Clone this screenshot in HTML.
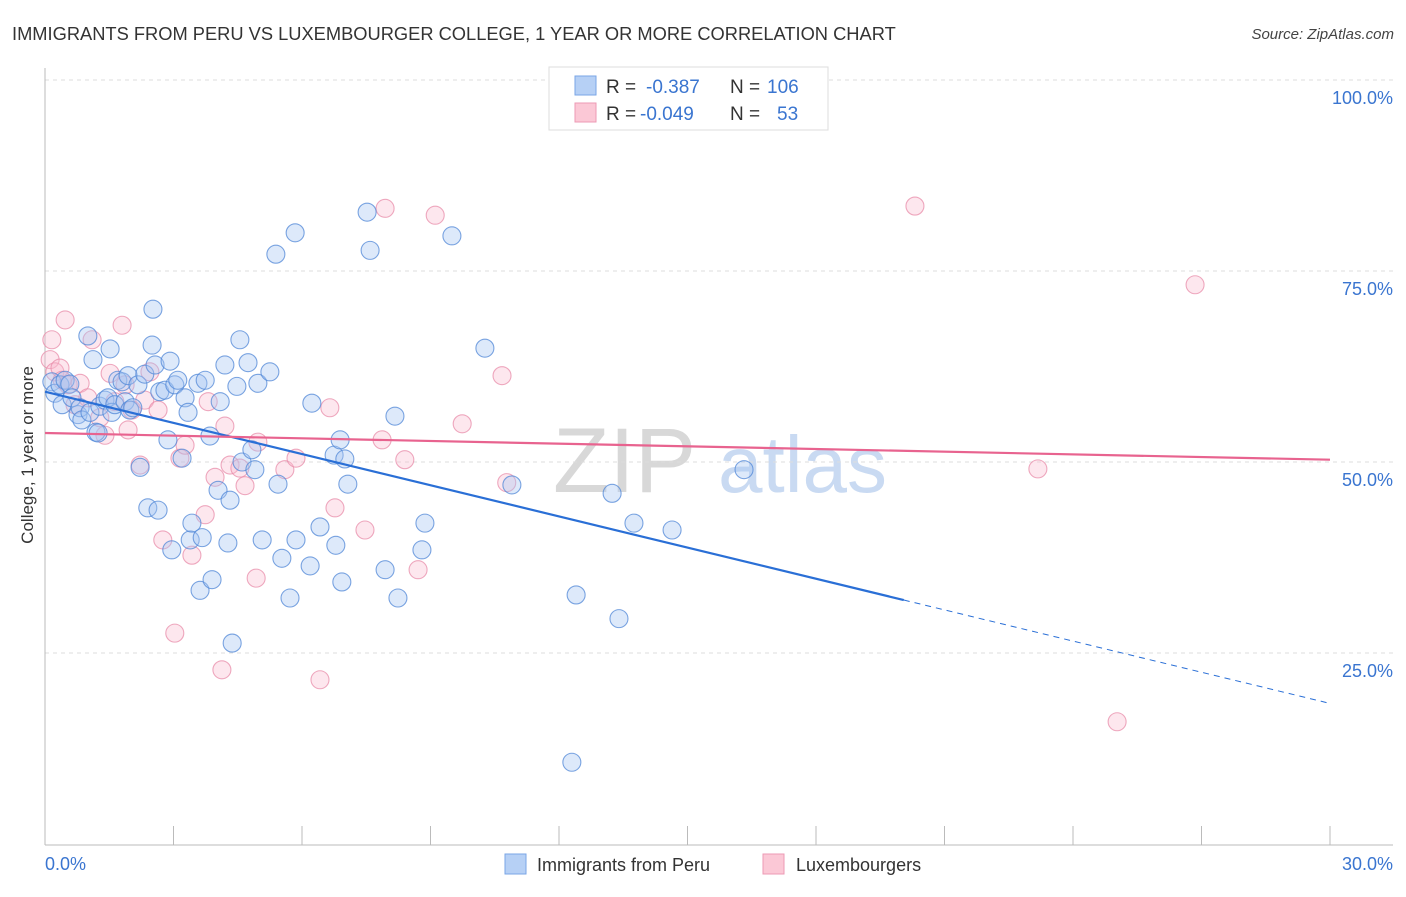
<!DOCTYPE html>
<html><head><meta charset="utf-8"><style>
body{margin:0;background:#fff;font-family:"Liberation Sans",sans-serif;}
svg text{font-family:"Liberation Sans",sans-serif;}
</style></head><body>
<svg id="chart" width="1406" height="892" xmlns="http://www.w3.org/2000/svg">
<text x="12" y="40" font-size="18.3" fill="#333">IMMIGRANTS FROM PERU VS LUXEMBOURGER COLLEGE, 1 YEAR OR MORE CORRELATION CHART</text>
<text x="1394" y="39" font-size="15" fill="#444" text-anchor="end" font-style="italic">Source: ZipAtlas.com</text>
<g>
<text x="553" y="492" font-size="92" fill="#d8d8d8" font-family="Liberation Serif, serif">ZIP</text>
<text x="718" y="492" font-size="80" fill="#c9daf2">atlas</text>
</g>
<g id="grid"></g>
<g id="axes"></g>
<g id="pts"></g>
<g id="trends"></g>
<text transform="translate(33,455) rotate(-90)" font-size="17" fill="#333" text-anchor="middle">College, 1 year or more</text>
<g>
<rect x="549" y="67" width="279" height="63" fill="#fff" stroke="#ddd"/>
<rect x="575" y="76" width="21" height="19" fill="#b6d0f5" stroke="#7aa6e6"/>
<rect x="575" y="103" width="21" height="19" fill="#fbc8d6" stroke="#ec9ab4"/>
<text x="606" y="93" font-size="19" fill="#333">R = </text><text x="646" y="93" font-size="19" fill="#3a75d0">-0.387</text>
<text x="730" y="93" font-size="19" fill="#333">N = </text><text x="767" y="93" font-size="19" fill="#3a75d0">106</text>
<text x="606" y="120" font-size="19" fill="#333">R = </text><text x="640" y="120" font-size="19" fill="#3a75d0">-0.049</text>
<text x="730" y="120" font-size="19" fill="#333">N = </text><text x="777" y="120" font-size="19" fill="#3a75d0">53</text>
</g>
<g>
<rect x="505" y="854" width="21" height="20" fill="#b6d0f5" stroke="#7aa6e6"/>
<text x="537" y="871" font-size="18" fill="#333">Immigrants from Peru</text>
<rect x="763" y="854" width="21" height="20" fill="#fbc8d6" stroke="#ec9ab4"/>
<text x="796" y="871" font-size="18" fill="#333">Luxembourgers</text>
</g>
</svg>
<script>
const yTicks=[25,50,75,100];
const yTickLabels=["25.0%","50.0%","75.0%","100.0%"];
const xTicks=[0,3,6,9,12,15,18,21,24,27,30];
const peruX=[0.16,0.23,0.35,0.40,0.47,0.58,0.63,0.77,0.82,0.86,1.00,1.05,1.12,1.19,1.24,1.28,1.40,1.47,1.52,1.56,1.63,1.70,1.80,1.87,1.94,1.98,2.05,2.17,2.22,2.33,2.40,2.50,2.52,2.57,2.64,2.68,2.80,2.87,2.92,2.96,3.03,3.10,3.20,3.27,3.34,3.39,3.43,3.57,3.62,3.67,3.74,3.85,3.90,4.04,4.09,4.20,4.27,4.32,4.37,4.48,4.55,4.60,4.74,4.83,4.90,4.97,5.07,5.25,5.39,5.44,5.53,5.72,5.84,5.86,6.19,6.23,6.42,6.75,6.79,6.89,6.93,7.00,7.07,7.52,7.59,7.94,8.17,8.24,8.80,8.87,9.50,10.27,10.90,12.30,12.40,13.24,13.40,13.75,14.64,16.32];
const peruY=[60.5,59.0,60.1,57.5,60.7,60.2,58.4,56.2,57.1,55.5,66.5,56.5,63.4,53.9,53.8,57.3,58.1,58.4,64.8,56.5,57.5,60.7,60.5,57.9,61.3,56.8,57.1,60.1,49.3,61.5,44.0,65.3,70.0,62.7,43.7,59.2,59.4,52.9,63.2,38.5,60.1,60.7,50.5,58.4,56.5,39.8,42.0,60.3,33.2,40.1,60.7,53.4,34.6,46.3,57.9,62.7,39.4,45.0,26.3,59.9,66.0,50.0,63.0,51.6,49.0,60.3,39.8,61.8,77.2,47.1,37.4,32.2,80.0,39.8,36.4,57.7,41.5,50.9,39.1,52.9,34.3,50.4,47.1,82.7,77.7,35.9,56.0,32.2,38.5,42.0,79.6,64.9,47.0,10.7,32.6,45.9,29.5,42.0,41.1,49.0];
const luxX=[0.12,0.16,0.23,0.35,0.40,0.47,0.54,0.70,0.82,1.00,1.10,1.28,1.40,1.52,1.63,1.80,1.87,1.94,2.03,2.22,2.33,2.45,2.64,2.75,3.03,3.15,3.27,3.43,3.74,3.81,3.97,4.13,4.20,4.32,4.55,4.67,4.93,4.97,5.60,5.86,6.42,6.65,6.77,7.47,7.87,7.94,8.40,8.71,9.11,9.74,10.67,10.78,20.31,23.18,25.03,26.85];
const luxY=[63.4,66.0,61.8,62.3,60.7,68.6,60.1,57.5,60.3,58.4,66.0,55.8,53.5,61.6,57.9,67.9,60.1,54.2,56.8,49.6,58.1,61.8,56.8,39.8,27.6,50.5,52.2,37.8,43.1,57.9,48.0,22.8,54.7,49.6,49.2,46.9,34.8,52.6,49.0,50.5,21.5,57.1,44.0,41.1,52.9,83.2,50.3,35.9,82.3,55.0,61.3,47.3,83.5,49.1,16.0,73.2];
const peruTrend=[59.2,18.4];
const peruSolidEnd=20.05;
const luxTrend=[53.8,50.3];

const NS="http://www.w3.org/2000/svg";
const X=v=>45+v/30*1285;
const Y=v=>844-v/100*764;
function mk(tag,attrs,parent){const e=document.createElementNS(NS,tag);for(const k in attrs)e.setAttribute(k,attrs[k]);parent.appendChild(e);return e;}
const grid=document.getElementById('grid'),axes=document.getElementById('axes'),pts=document.getElementById('pts'),tr=document.getElementById('trends');
yTicks.forEach((t,i)=>{
  const l=mk('line',{x1:45,x2:1393,y1:Y(t),y2:Y(t),stroke:'#ddd','stroke-dasharray':'4,4'},grid);
  
  
  const tx=mk('text',{x:1393,y:Y(t)+24,'font-size':18,fill:'#3a75d0','text-anchor':'end'},axes);
  tx.textContent=yTickLabels[i];
  
  
});
const la=mk('line',{x1:45,x2:45,y1:68,y2:845,stroke:'#bbb'},axes);


const ba=mk('line',{x1:45,x2:1393,y1:845,y2:845,stroke:'#bbb'},axes);


xTicks.forEach(t=>{
  const l=mk('line',{x1:X(t),x2:X(t),y1:826,y2:845,stroke:'#bbb'},axes);
  
  
});
const x0=mk('text',{x:45,y:870,'font-size':18,fill:'#3a75d0'},axes);x0.textContent='0.0%';


const x1=mk('text',{x:1393,y:870,'font-size':18,fill:'#3a75d0','text-anchor':'end'},axes);x1.textContent='30.0%';


luxX.forEach((v,i)=>{
  const c=mk('circle',{cx:X(v),cy:Y(luxY[i]),r:9,fill:'rgba(248,185,205,0.35)',stroke:'rgba(232,140,170,0.75)','stroke-width':1.1},pts);
  
  
});
peruX.forEach((v,i)=>{
  const c=mk('circle',{cx:X(v),cy:Y(peruY[i]),r:9,fill:'rgba(165,198,242,0.38)',stroke:'rgba(80,135,215,0.75)','stroke-width':1.1},pts);
  
  
});
const py=x=>peruTrend[0]+(peruTrend[1]-peruTrend[0])*x/30;
const t1=mk('line',{x1:X(0),y1:Y(py(0)),x2:X(peruSolidEnd),y2:Y(py(peruSolidEnd)),stroke:'#2a6fd6','stroke-width':2.2},tr);


const t2=mk('line',{x1:X(peruSolidEnd),y1:Y(py(peruSolidEnd)),x2:X(30),y2:Y(py(30)),stroke:'#2a6fd6','stroke-width':1,'stroke-dasharray':'6,5'},tr);


const t3=mk('line',{x1:X(0),y1:Y(luxTrend[0]),x2:X(30),y2:Y(luxTrend[1]),stroke:'#e8638f','stroke-width':2.2},tr);


</script>
</body></html>
